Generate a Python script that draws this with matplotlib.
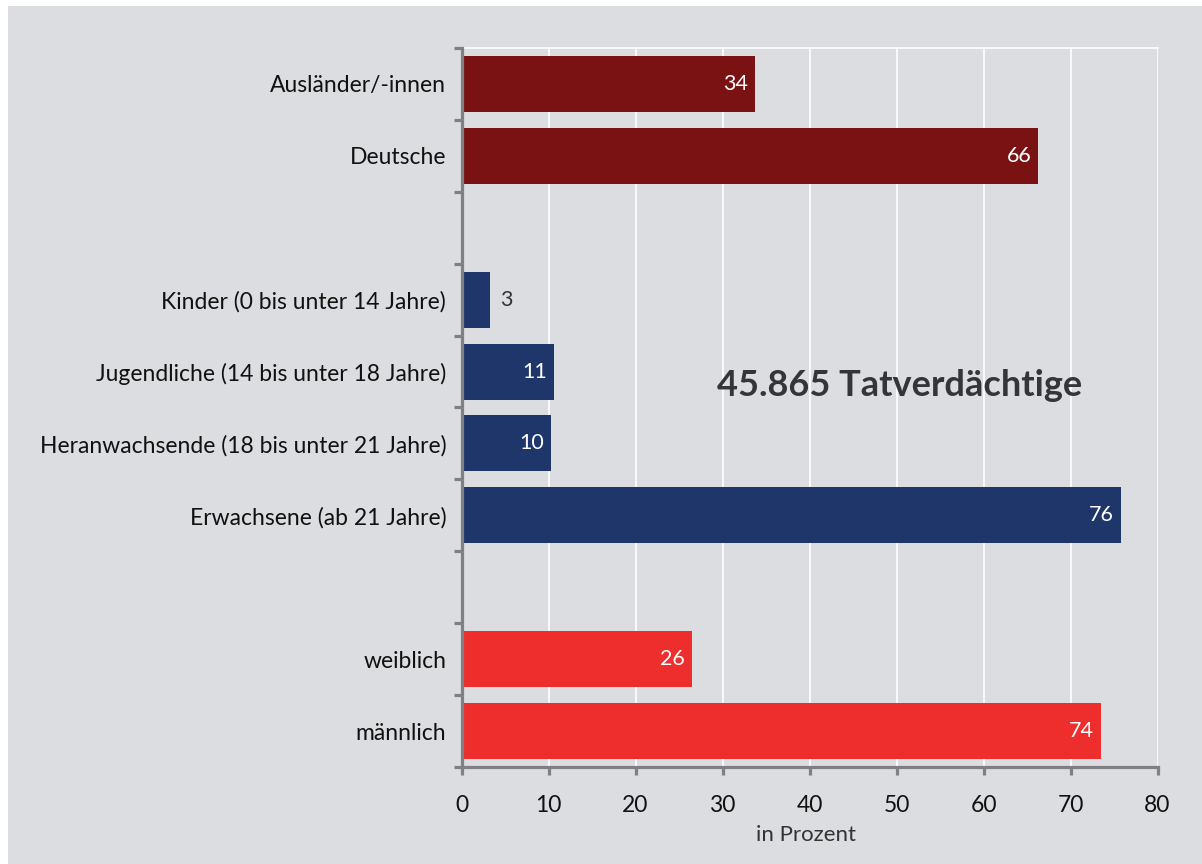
import matplotlib
matplotlib.use("Agg")
import matplotlib.pyplot as plt
from matplotlib.patches import Rectangle

categories = ["Ausländer/-innen", "Deutsche",
              "Kinder (0 bis unter 14 Jahre)", "Jugendliche (14 bis unter 18 Jahre)",
              "Heranwachsende (18 bis unter 21 Jahre)", "Erwachsene (ab 21 Jahre)",
              "weiblich", "männlich"]
values = [33.7, 66.3, 3.3, 10.6, 10.3, 75.8, 26.5, 73.5]
labels = ["34", "66", "3", "11", "10", "76", "26", "74"]
slots = [0, 1, 3, 4, 5, 6, 8, 9]
groups = [0, 0, 1, 1, 1, 1, 2, 2]
group_colors = ["#7a1214", "#1f366b", "#ee2e2c"]
xticks = [0, 10, 20, 30, 40, 50, 60, 70, 80]
title = "45.865 Tatverdächtige"
xlabel = "in Prozent"

plt.rcParams['font.family'] = ['Lato', 'DejaVu Sans']

W, H = 1202, 864
fig = plt.figure(figsize=(W / 100, H / 100), dpi=100, facecolor="white")
bg = "#dcdde0"
fig.patches.append(Rectangle((8 / W, 0), 1 - 8 / W, 1 - 6 / H, transform=fig.transFigure,
                             facecolor=bg, edgecolor="none", zorder=-10))

ax = fig.add_axes([461.5 / W, 1 - 767 / H, (1157.5 - 461.5) / W, (767 - 48) / H])
ax.set_facecolor(bg)

colors = [group_colors[g] for g in groups]
bars = ax.barh(slots, values, height=0.78, color=colors, zorder=3)

for s, v, lab in zip(slots, values, labels):
    if v < 5:
        ax.annotate(lab, (v, s), xytext=(10, 0), textcoords="offset pixels",
                    ha="left", va="center", color="#333333", fontsize=15.5, zorder=4)
    else:
        ax.annotate(lab, (v, s), xytext=(-7, 0), textcoords="offset pixels",
                    ha="right", va="center", color="white", fontsize=15.5, zorder=4)

ax.set_xlim(0, 80)
ax.set_ylim(9.5, -0.5)
ax.set_xticks(xticks)
ax.set_xticklabels([str(t) for t in xticks], fontsize=16.5, color="#111111")

ax.set_yticks([i - 0.5 for i in range(11)])
ax.set_yticklabels([])
ax.set_yticks(slots, minor=True)
ax.set_yticklabels(categories, minor=True, fontsize=16.5, color="#111111")

spine_c = "#808084"
ax.tick_params(axis="y", which="major", direction="out", length=6, width=2.3, color=spine_c)
ax.tick_params(axis="y", which="minor", length=0, pad=11)
ax.tick_params(axis="x", which="major", direction="out", length=6, width=2.3, color=spine_c, pad=14)

ax.grid(axis="x", color="white", linewidth=1.2, zorder=0)
ax.set_axisbelow(True)
for side in ["left", "bottom"]:
    ax.spines[side].set_color(spine_c)
    ax.spines[side].set_linewidth(2.3)
    ax.spines[side].set_zorder(5)
ax.spines["top"].set_color("white")
ax.spines["top"].set_linewidth(1.2)
ax.spines["right"].set_visible(False)

ax.set_xlabel(xlabel, fontsize=16, color="#333333", labelpad=4)
ax.xaxis.set_label_coords(0.495, -0.081)
ax.text(0.63, 0.53, title, transform=ax.transAxes, ha="center", va="center",
        fontsize=26, fontweight="bold", color="#333538")

fig.savefig("out.png", dpi=100, facecolor="white")
